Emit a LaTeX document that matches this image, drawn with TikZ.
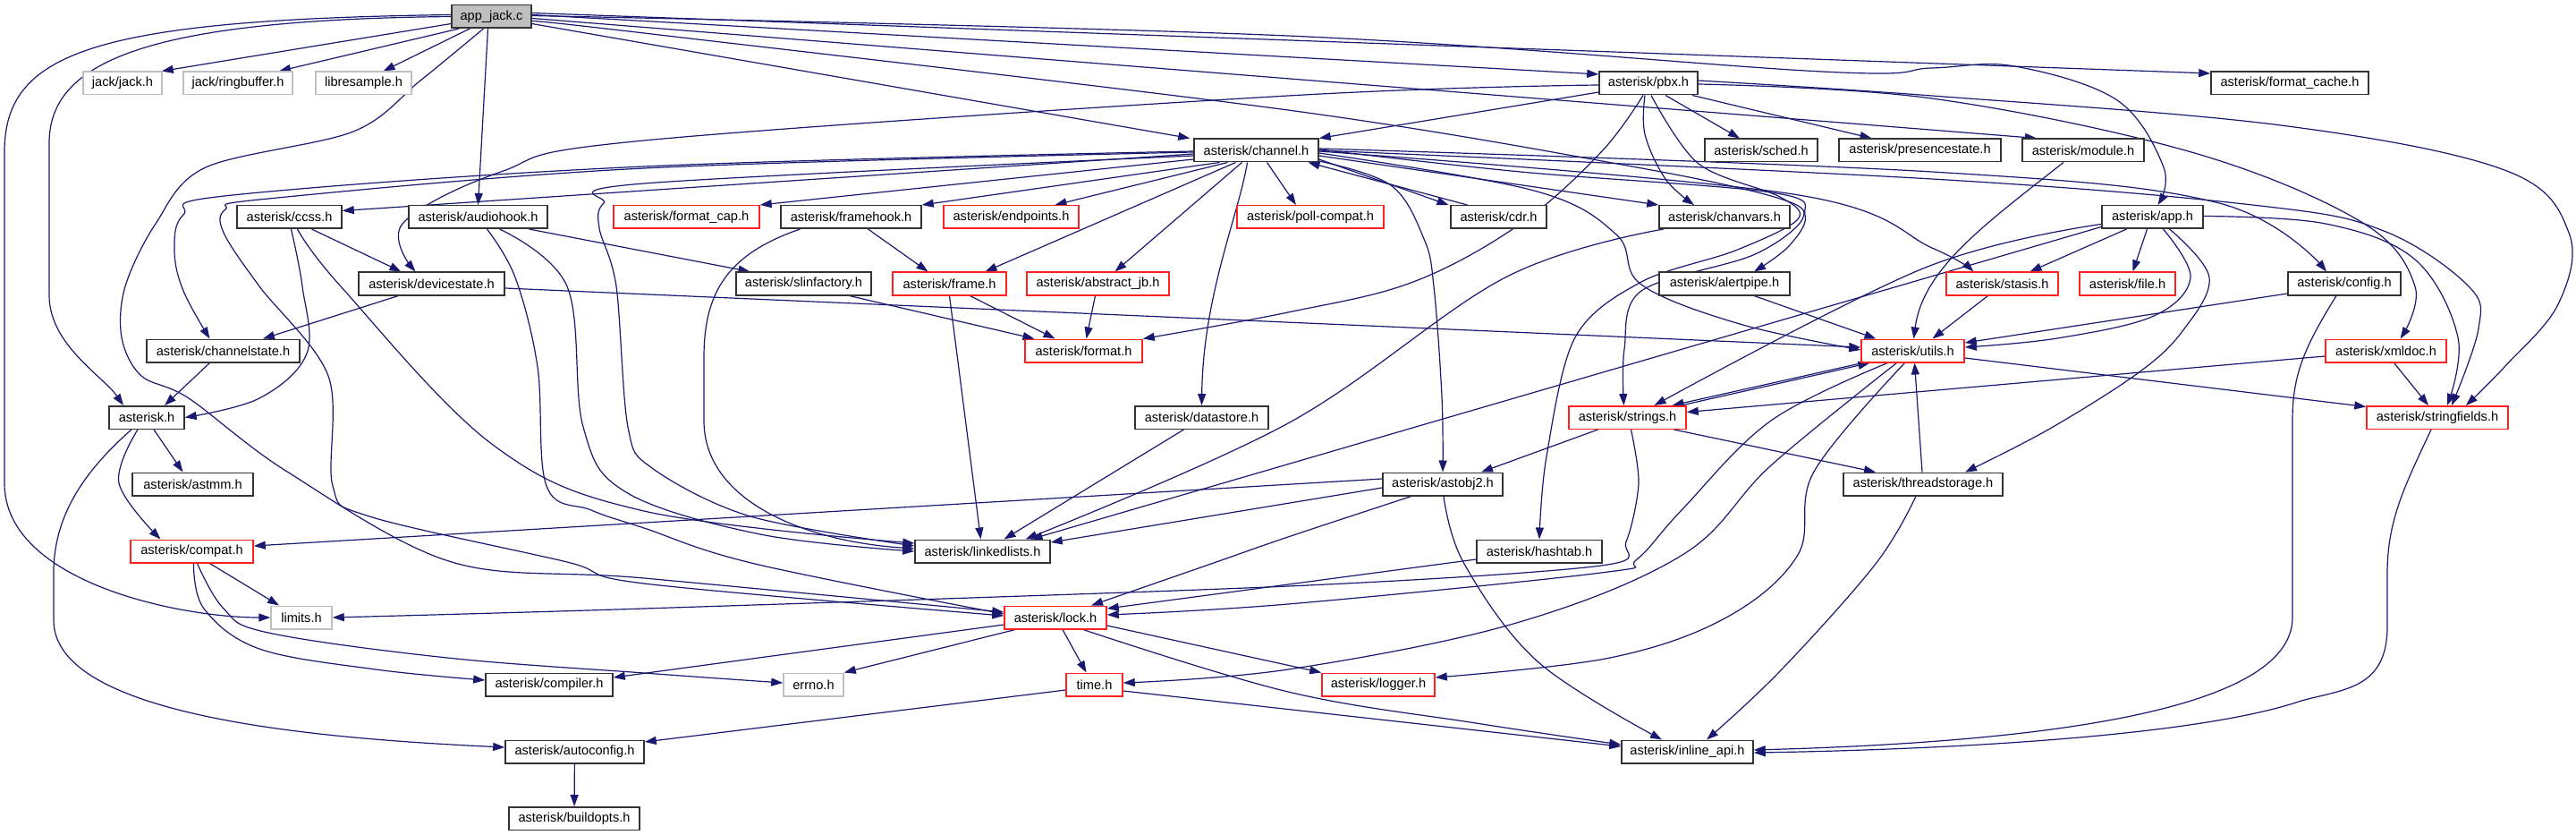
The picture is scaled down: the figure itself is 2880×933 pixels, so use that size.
\documentclass[tikz,border=0pt]{standalone}
\usepackage{fontspec}
\setmainfont{Liberation Sans}
\usetikzlibrary{arrows.meta}
\definecolor{edgec}{HTML}{191970}
\definecolor{redc}{HTML}{FF2020}
\definecolor{grayb}{HTML}{BFBFBF}
\definecolor{darkb}{HTML}{333333}
\pgfdeclarelayer{bg}
\pgfsetlayers{bg,main}
\tikzset{
 nb/.style={draw=darkb, line width=1.5pt, fill=white, rectangle, minimum height=25.5pt, inner sep=0pt, font=\fontsize{14.6}{16}\selectfont, text=black},
 rb/.style={nb, draw=redc},
 gb/.style={nb, draw=grayb},
 e/.style={draw=edgec, line width=1.2pt, -{Triangle[length=13pt,width=9pt]}},
}
\begin{document}
\begin{tikzpicture}[x=1pt,y=-1pt]
\useasboundingbox (0,0) rectangle (2880,933);
\node[nb, fill=grayb, minimum width=89pt] (app) at (549.5,18.5) {app\_jack.c};
\node[gb,minimum width=88pt] (jackjack) at (137,93) {jack/jack.h};
\node[gb,minimum width=122pt] (ringbuffer) at (266,93) {jack/ringbuffer.h};
\node[gb,minimum width=107pt] (libresample) at (406.5,93) {libresample.h};
\node[nb,minimum width=110pt] (pbx) at (1843,93) {asterisk/pbx.h};
\node[nb,minimum width=176pt] (formatcache) at (2560,93) {asterisk/format\_cache.h};
\node[nb,minimum width=139pt] (channel) at (1404.5,168) {asterisk/channel.h};
\node[nb,minimum width=126pt] (sched) at (1969,168) {asterisk/sched.h};
\node[nb,minimum width=181pt] (presencestate) at (2146.5,168) {asterisk/presencestate.h};
\node[nb,minimum width=136pt] (module) at (2329,168) {asterisk/module.h};
\node[nb,minimum width=117pt] (ccss) at (323.5,242.5) {asterisk/ccss.h};
\node[nb,minimum width=155pt] (audiohook) at (534.5,242.5) {asterisk/audiohook.h};
\node[rb,minimum width=163pt] (formatcap) at (767.5,242.5) {asterisk/format\_cap.h};
\node[nb,minimum width=157pt] (framehook) at (951.5,242.5) {asterisk/framehook.h};
\node[rb,minimum width=151pt] (endpoints) at (1130.5,242.5) {asterisk/endpoints.h};
\node[rb,minimum width=164pt] (pollcompat) at (1465,242.5) {asterisk/poll-compat.h};
\node[nb,minimum width=107pt] (cdr) at (1675.5,242.5) {asterisk/cdr.h};
\node[nb,minimum width=146pt] (chanvars) at (1928,242.5) {asterisk/chanvars.h};
\node[nb,minimum width=113pt] (apph) at (2406.5,242.5) {asterisk/app.h};
\node[nb,minimum width=163pt] (devicestate) at (482.5,317) {asterisk/devicestate.h};
\node[nb,minimum width=151pt] (slinfactory) at (898.5,317) {asterisk/slinfactory.h};
\node[rb,minimum width=127pt] (frame) at (1061.5,317) {asterisk/frame.h};
\node[rb,minimum width=159pt] (abstractjb) at (1227.5,317) {asterisk/abstract\_jb.h};
\node[nb,minimum width=146pt] (alertpipe) at (1928,317) {asterisk/alertpipe.h};
\node[rb,minimum width=125pt] (stasis) at (2238.5,317) {asterisk/stasis.h};
\node[rb,minimum width=107pt] (file) at (2378.5,317) {asterisk/file.h};
\node[nb,minimum width=126pt] (config) at (2621,317) {asterisk/config.h};
\node[nb,minimum width=171pt] (channelstate) at (249.5,392) {asterisk/channelstate.h};
\node[rb,minimum width=131pt] (format) at (1211.5,392) {asterisk/format.h};
\node[rb,minimum width=115pt] (utils) at (2138.5,392) {asterisk/utils.h};
\node[rb,minimum width=135pt] (xmldoc) at (2667.5,392) {asterisk/xmldoc.h};
\node[nb,minimum width=84pt] (asterisk) at (164,466.5) {asterisk.h};
\node[nb,minimum width=149pt] (datastore) at (1343.5,466.5) {asterisk/datastore.h};
\node[rb,minimum width=131pt] (strings) at (1819.5,466.5) {asterisk/strings.h};
\node[rb,minimum width=158pt] (stringfields) at (2725,466.5) {asterisk/stringfields.h};
\node[nb,minimum width=135pt] (astmm) at (215.5,541) {asterisk/astmm.h};
\node[nb,minimum width=134pt] (astobj2) at (1613,541) {asterisk/astobj2.h};
\node[nb,minimum width=178pt] (threadstorage) at (2150,541) {asterisk/threadstorage.h};
\node[rb,minimum width=137pt] (compat) at (214.5,616) {asterisk/compat.h};
\node[nb,minimum width=151pt] (linkedlists) at (1098.5,616) {asterisk/linkedlists.h};
\node[nb,minimum width=140pt] (hashtab) at (1721,616) {asterisk/hashtab.h};
\node[gb,minimum width=68pt] (limits) at (337,690) {limits.h};
\node[rb,minimum width=114pt] (lock) at (1180,690) {asterisk/lock.h};
\node[nb,minimum width=142pt] (compiler) at (614,765) {asterisk/compiler.h};
\node[gb,minimum width=67pt] (errno) at (909.5,765) {errno.h};
\node[rb,minimum width=63pt] (time) at (1223.5,765) {time.h};
\node[rb,minimum width=126pt] (logger) at (1541,765) {asterisk/logger.h};
\node[nb,minimum width=155pt] (autoconfig) at (642.5,840) {asterisk/autoconfig.h};
\node[nb,minimum width=147pt] (inlineapi) at (1886.5,840) {asterisk/inline\_api.h};
\node[nb,minimum width=146pt] (buildopts) at (642,914.5) {asterisk/buildopts.h};

\begin{pgfonlayer}{bg}
% app_jack.c
\draw[e] ([yshift=-8pt]app.west) -- ([xshift=-1pt]jackjack.north east);
\draw[e] ([xshift=9pt]app.south west) -- ([xshift=46pt]ringbuffer.north);
\draw[e] ([xshift=21pt]app.south west) -- ([xshift=22pt]libresample.north);
\draw[e] ([xshift=-4pt]app.south) -- (audiohook.north);
\draw[e] ([yshift=2pt]app.west) .. controls (100,22) and (5,60) .. (5,170) -- (5,540) .. controls (5,650) and (200,690) .. (limits.west);
\draw[e] (app.west) .. controls (160,22) and (55,70) .. (55,160) -- (55,330) .. controls (55,385) and (115,420) .. ([xshift=-26pt]asterisk.north);
\draw[e] plot[smooth,tension=0.55] coordinates {([xshift=-9pt]app.south) (470,90) (395,147) (230,187) (174,250) (140,320) (136,377) (158,420) (211,445) (321,527) (505,628) (720,646) ([yshift=6pt]lock.west)};
\draw[e] ([yshift=-8pt]app.east) -- ([xshift=-4pt]channel.north west);
\draw[e] ([yshift=2pt]app.east) -- ([yshift=10pt]pbx.west);
\draw[e] ([yshift=4pt]app.east) -- ([yshift=11pt]formatcache.west);
\draw[e] ([yshift=-2pt]app.east) -- ([xshift=-52pt]module.north);
\draw[e] plot[smooth,tension=0.6] coordinates {([yshift=1pt]app.east) (1440,40) (2037,80) (2160,76) (2252,74) (2367,112) (2419,187) ([xshift=6pt]apph.north)};
\draw[e] plot[smooth,tension=0.55] coordinates {([yshift=-5pt]app.east) (720,37) (1440,123) (1830,187) (1990,222) (2015,245) (1960,285) (1835,325) (1816,390) ([xshift=-4pt]strings.north)};
% pbx
\draw[e] ([yshift=-10pt]pbx.west) -- (channel.north east);
\draw[e] ([xshift=19pt]pbx.south) -- ([xshift=-24pt]sched.north);
\draw[e] ([xshift=49pt]pbx.south) -- ([xshift=-54pt]presencestate.north);
\draw[e] plot[smooth,tension=0.6] coordinates {([yshift=-2pt]pbx.west) (1440,107) (720,157) (560,192) (450,250) ([xshift=-18pt]devicestate.north)};
\draw[e] plot[smooth,tension=0.6] coordinates {([xshift=-6pt]pbx.south) (1790,170) (1700,250) (1580,315) (1440,349) (format.north east)};
\draw[e] plot[smooth,tension=0.6] coordinates {([xshift=-4pt]pbx.south) (1839,150) (1862,200) ([xshift=-34pt]chanvars.north)};
\draw[e] plot[smooth,tension=0.55] coordinates {([xshift=3pt]pbx.south) (1899,183) (1990,220) (2010,245) (1940,280) (1835,315) (1761,377) (1729,510) (hashtab.north)};
\draw[e] plot[smooth,tension=0.6] coordinates {([yshift=3pt]pbx.east) (2160,107) (2550,140) (2800,190) (2872,260) (2860,340) (2800,410) ([xshift=32pt]stringfields.north)};
\draw[e] plot[smooth,tension=0.6] coordinates {([yshift=-1pt]pbx.east) (2160,110) (2450,170) (2640,248) (2700,320) ([xshift=16pt]xmldoc.north)};
% channel
\draw[e] ([yshift=-4pt]channel.west) -- ([yshift=7pt]ccss.east);
\draw[e] plot[smooth,tension=0.6] coordinates {([yshift=-1pt]channel.west) (720,186) (260,218) (205,240) (195,280) (205,325) ([xshift=-15pt]channelstate.north)};
\draw[e] plot[smooth,tension=0.55] coordinates {([yshift=-2pt]channel.west) (720,188) (300,222) (252,234) (250,260) (290,320) (367,420) (372,543) (413,577) (634,628) (720,652) ([yshift=2pt]lock.west)};
\draw[e] plot[smooth,tension=0.55] coordinates {([yshift=-6pt]channel.west) (720,205) (675,227) (670,255) (689,320) (702,477) (729,523) (839,577) ([yshift=6pt]linkedlists.west)};
\draw[e] ([yshift=-10pt]channel.west) -- (formatcap.north east);
\draw[e] ([xshift=-41pt]channel.south) -- (framehook.north east);
\draw[e] ([xshift=-32pt]channel.south) -- ([xshift=49pt]endpoints.north);
\draw[e] ([xshift=-23pt]channel.south) -- ([xshift=40pt]frame.north);
\draw[e] ([xshift=-16pt]channel.south) -- ([xshift=19pt]abstractjb.north);
\draw[e] ([xshift=-10pt]channel.south) .. controls (1385,240) and (1345,330) .. (datastore.north);
\draw[e] ([xshift=12pt]channel.south) -- ([xshift=-16pt]pollcompat.north);
\draw[e] ([yshift=-10pt]channel.east) -- ([xshift=-56pt]cdr.north);
\draw[e] ([xshift=-35pt]cdr.north) -- ([xshift=58pt]channel.south);
\draw[e] ([yshift=-6pt]channel.east) -- (chanvars.north west);
\draw[e] plot[smooth,tension=0.6] coordinates {([yshift=-12pt]channel.east) (1555,207) (1592,267) (1603,320) (1612,443) (astobj2.north)};
\draw[e] plot[smooth,tension=0.6] coordinates {([yshift=-3pt]channel.east) (1715,213) (1807,262) (1835,318) (1945,362) ([yshift=1pt]utils.west)};
\draw[e] plot[smooth,tension=0.6] coordinates {([yshift=1pt]channel.east) (1700,192) (1980,215) (2018,240) (2000,275) ([xshift=33pt]alertpipe.north)};
\draw[e] plot[smooth,tension=0.6] coordinates {([yshift=-1pt]channel.east) (2005,217) (2160,277) ([xshift=-32pt]stasis.north)};
\draw[e] plot[smooth,tension=0.6] coordinates {([yshift=2pt]channel.east) (2160,192) (2481,227) ([xshift=-20pt]config.north)};
\draw[e] plot[smooth,tension=0.6] coordinates {(channel.east) (2160,200) (2527,230) (2665,258) (2760,320) (2771,367) ([xshift=16pt]stringfields.north)};
% ccss
\draw[e] ([xshift=25pt]ccss.south) -- ([xshift=-34pt]devicestate.north);
\draw[e] plot[smooth,tension=0.6] coordinates {([xshift=2pt]ccss.south) (338,320) (343,395) (290,445) (asterisk.east)};
\draw[e] plot[smooth,tension=0.6] coordinates {([xshift=9pt]ccss.south) (381,320) (551,497) (720,571) ([yshift=9pt]linkedlists.west)};
% audiohook
\draw[e] ([xshift=57pt]audiohook.south) -- ([xshift=-60pt]slinfactory.north);
\draw[e] plot[smooth,tension=0.6] coordinates {([xshift=10pt]audiohook.south) (576,310) (601,410) (611,543) (661,570) (720,590) (844,630) ([yshift=4pt]lock.west)};
\draw[e] plot[smooth,tension=0.6] coordinates {([xshift=24pt]audiohook.south) (634,320) (652,477) (700,550) (850,597) (linkedlists.west)};
% devicestate, channelstate, asterisk
\draw[e] ([xshift=-37pt]devicestate.south) -- ([xshift=44.5pt]channelstate.north);
\draw[e] ([yshift=-5pt]devicestate.east) -- ([yshift=4pt]utils.west);
\draw[e] ([xshift=-15pt]channelstate.south) -- ([xshift=20pt]asterisk.north);
\draw[e] ([xshift=8pt]asterisk.south) -- ([xshift=-11pt]astmm.north);
\draw[e] plot[smooth,tension=0.6] coordinates {([xshift=-10pt]asterisk.south) (133,540) ([xshift=-35pt]compat.north)};
\draw[e] ([xshift=-17pt]asterisk.south) .. controls (90,530) and (60,580) .. (60,640) -- (60,693) .. controls (60,800) and (350,825) .. ([yshift=5pt]autoconfig.west);
% compat
\draw[e] ([xshift=20pt]compat.south) -- ([xshift=-25pt]limits.north);
\draw[e] plot[smooth,tension=0.6] coordinates {([xshift=2pt]compat.south) (228,680) (290,725) (420,748) ([yshift=5pt]compiler.west)};
\draw[e] plot[smooth,tension=0.6] coordinates {([xshift=6pt]compat.south) (250,680) (300,707) (500,735) (720,752) ([yshift=2pt]errno.west)};
% lock
\draw[e] ([yshift=-8pt]lock.west) -- ([yshift=8pt]compiler.east);
\draw[e] ([xshift=-45pt]lock.south) -- (errno.north east);
\draw[e] ([xshift=8pt]lock.south) -- ([xshift=-9pt]time.north);
\draw[e] plot[smooth,tension=0.6] coordinates {([xshift=31pt]lock.south) (1440,773) (1650,808) ([yshift=8pt]inlineapi.west)};
\draw[e] ([yshift=-9pt]lock.east) -- (logger.north west);
% time, autoconfig
\draw[e] ([yshift=-6pt]time.west) -- ([yshift=11pt]autoconfig.east);
\draw[e] ([yshift=-7pt]time.east) -- ([yshift=6pt]inlineapi.west);
\draw[e] (autoconfig) -- (buildopts);
% utils, strings
\draw[e] ([xshift=2pt]utils.south west) -- ([xshift=50pt]strings.north);
\draw[e] ([xshift=60pt]strings.north) -- ([xshift=-48pt]utils.south);
\draw[e] ([yshift=-8pt]utils.east) -- ([yshift=12pt]stringfields.west);
\draw[e] plot[smooth,tension=0.6] coordinates {([xshift=-28pt]utils.south) (1980,470) (1880,570) (1830,625) (1790,640) (1440,675) ([yshift=3pt]lock.east)};
\draw[e] plot[smooth,tension=0.6] coordinates {([xshift=-18pt]utils.south) (1980,520) (1881,620) (1692,697) (1440,748) ([yshift=2pt]time.east)};
\draw[e] plot[smooth,tension=0.6] coordinates {([xshift=-9pt]utils.south) (2028,527) (2010,620) (1930,690) (1800,735) ([yshift=8pt]logger.east)};
\draw[e] ([xshift=-33pt]strings.south) -- ([xshift=43pt]astobj2.north);
\draw[e] ([xshift=52pt]strings.south) -- ([xshift=-53pt]threadstorage.north);
\draw[e] plot[smooth,tension=0.5] coordinates {([xshift=4pt]strings.south) (1832,540) (1818,605) (1790,632) (1440,655) (720,680) (limits.east)};
% threadstorage, astobj2, hashtab
\draw[e] ([xshift=-1pt]threadstorage.north) -- ([xshift=2pt]utils.south);
\draw[e] plot[smooth,tension=0.6] coordinates {([xshift=-8pt]threadstorage.south) (2097,630) (1990,750) ([xshift=21.5pt]inlineapi.north)};
\draw[e] plot[smooth,tension=0.6] coordinates {([xshift=-35pt]astobj2.south) (1440,600) (1354,630) ([xshift=40pt]lock.north)};
\draw[e] ([yshift=-4pt]astobj2.west) -- ([yshift=10pt]linkedlists.east);
\draw[e] ([yshift=6pt]astobj2.west) -- ([yshift=6pt]compat.east);
\draw[e] plot[smooth,tension=0.6] coordinates {([xshift=1pt]astobj2.south) (1637,630) (1720,740) ([xshift=-28.5pt]inlineapi.north)};
\draw[e] ([yshift=-9pt]hashtab.west) -- ([yshift=10pt]lock.east);
% datastore, chanvars, app.h -> linkedlists
\draw[e] ([xshift=-20pt]datastore.south) -- ([xshift=24pt]linkedlists.north);
\draw[e] plot[smooth,tension=0.6] coordinates {([xshift=-68pt]chanvars.south) (1683,310) (1440,473) ([xshift=48pt]linkedlists.north)};
\draw[e] ([yshift=-11pt]apph.west) -- ([xshift=54pt]linkedlists.north);
\draw[e] plot[smooth,tension=0.6] coordinates {([yshift=-8pt]apph.west) (2150,300) ([xshift=30pt]strings.north)};
% framehook, frame, slinfactory, abstract_jb
\draw[e] ([xshift=19pt]framehook.south) -- ([xshift=-24pt]frame.north);
\draw[e] ([xshift=-57pt]framehook.south) .. controls (810,285) and (787,330) .. (787,400) -- (787,470) .. controls (787,560) and (900,605) .. ([yshift=3pt]linkedlists.west);
\draw[e] ([xshift=51pt]slinfactory.south) -- ([xshift=-55pt]format.north);
\draw[e] ([xshift=23pt]frame.south) -- ([xshift=-32pt]format.north);
\draw[e] (frame.south) -- ([xshift=-2pt]linkedlists.north);
\draw[e] ([xshift=-3pt]abstractjb.south) -- ([xshift=3pt]format.north);
% app.h
\draw[e] ([xshift=-29pt]apph.south) -- ([xshift=31pt]stasis.north);
\draw[e] ([xshift=-6pt]apph.south) -- ([xshift=6pt]file.north);
\draw[e] plot[smooth,tension=0.6] coordinates {([xshift=12pt]apph.south) (2449,310) (2408,353) (2300,378) ([yshift=4pt]utils.east)};
\draw[e] plot[smooth,tension=0.6] coordinates {([xshift=19pt]apph.south) (2470,310) (2440,370) (2390,417) (2290,480) ([xshift=47pt]threadstorage.north)};
\draw[e] plot[smooth,tension=0.6] coordinates {([yshift=1pt]apph.east) (2600,250) (2700,290) (2748,377) ([xshift=11pt]stringfields.north)};
% config, xmldoc, stringfields, stasis, module, alertpipe
\draw[e] ([yshift=-11pt]config.west) -- ([yshift=9pt]utils.east);
\draw[e] ([xshift=-9pt]config.south) .. controls (2575,390) and (2563,420) .. (2563,470) -- (2563,690) .. controls (2563,800) and (2250,830) .. ([yshift=2pt]inlineapi.east);
\draw[e] ([yshift=-6pt]xmldoc.west) -- ([yshift=6pt]strings.east);
\draw[e] ([xshift=9pt]xmldoc.south) -- ([xshift=-10pt]stringfields.north);
\draw[e] ([xshift=-7pt]stringfields.south) .. controls (2690,540) and (2669,580) .. (2669,640) -- (2669,700) .. controls (2669,770) and (2620,770) .. (2573,783) .. controls (2450,825) and (2150,838) .. ([yshift=-1pt]inlineapi.east);
\draw[e] ([xshift=-16pt]stasis.south) -- ([xshift=22pt]utils.north);
\draw[e] ([xshift=-22pt]module.south) .. controls (2220,250) and (2150,300) .. ([xshift=1pt]utils.north);
\draw[e] ([xshift=33pt]alertpipe.south) -- ([xshift=-41pt]utils.north);
\end{pgfonlayer}
\end{tikzpicture}
\end{document}
